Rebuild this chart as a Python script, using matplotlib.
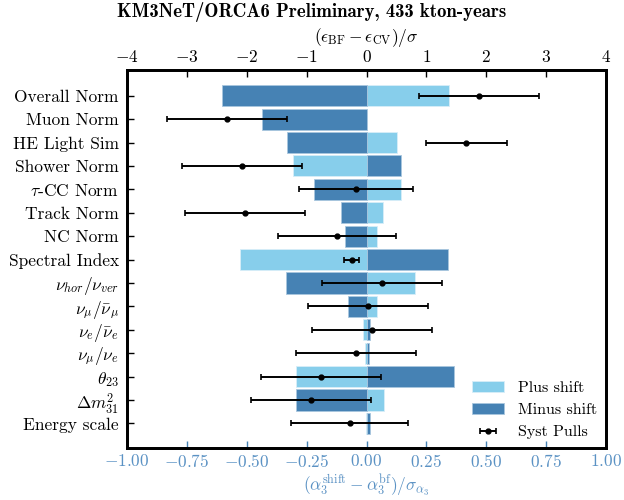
import matplotlib
matplotlib.use("Agg")
import matplotlib.pyplot as plt
import numpy as np

plt.rcParams['font.family'] = ['cmr10', 'DejaVu Serif']
plt.rcParams['mathtext.fontset'] = 'cm'
plt.rcParams['axes.formatter.use_mathtext'] = True

labels = ["Overall Norm", "Muon Norm", "HE Light Sim", "Shower Norm",
          r"$\tau$-CC Norm", "Track Norm", "NC Norm", "Spectral Index",
          r"$\nu_{hor}/\nu_{ver}$", r"$\nu_\mu/\bar{\nu}_\mu$",
          r"$\nu_e/\bar{\nu}_e$", r"$\nu_\mu/\nu_e$", r"$\theta_{23}$",
          r"$\Delta m^2_{31}$", "Energy scale"]
plus_shift = [0.344, 0.0, 0.127, -0.306, 0.144, 0.069, 0.044, -0.529,
              0.203, 0.044, -0.015, -0.005, -0.293, 0.073, -0.004]
minus_shift = [-0.603, -0.436, -0.332, 0.144, -0.219, -0.106, -0.090, 0.340,
               -0.336, -0.077, 0.015, 0.012, 0.365, -0.293, 0.015]
pulls = [1.88, -2.33, 1.67, -2.08, -0.18, -2.03, -0.49, -0.25,
         0.26, 0.03, 0.09, -0.18, -0.76, -0.93, -0.28]
pull_err = [1.0, 1.0, 0.67, 1.0, 0.95, 1.0, 0.98, 0.13,
            1.0, 1.0, 1.0, 1.0, 1.0, 1.0, 0.98]

n = len(labels)
y = np.arange(n)[::-1]

fig = plt.figure(figsize=(6.24, 5.0), dpi=100)
ax = fig.add_axes([127/624, 1-448/500, (606-127)/624, (448-70)/500])

ax.barh(y, plus_shift, height=0.9, color='skyblue', edgecolor='#d8eef8',
        linewidth=0.6, label='Plus shift')
ax.barh(y, minus_shift, height=0.9, color='steelblue', edgecolor='#a9c6de',
        linewidth=0.6, label='Minus shift')
ax.set_xlim(-1, 1)
ax.set_ylim(-1.05, 15.1)
ax.set_yticks(y)
ax.set_yticklabels(labels, fontsize=12.5)
ax.set_xticks([-1, -0.75, -0.5, -0.25, 0, 0.25, 0.5, 0.75, 1])
ax.set_xticklabels([r"$-1.00$", r"$-0.75$", r"$-0.50$", r"$-0.25$", r"$0.00$",
                    r"$0.25$", r"$0.50$", r"$0.75$", r"$1.00$"])
ax.tick_params(axis='x', direction='in', colors='steelblue', labelsize=12.5,
               length=5, width=1)
ax.tick_params(axis='y', direction='in', length=5, width=1, pad=6)
for t in ax.get_xticklabels():
    t.set_color('#5b92c4')
ax.set_xlabel(r"$(\alpha_3^{\rm shift} - \alpha_3^{\rm bf})/\sigma_{\alpha_3}$",
              color='#5b92c4', fontsize=12.5, labelpad=2)
for s in ax.spines.values():
    s.set_linewidth(2)

ax2 = ax.twiny()
eb = ax2.errorbar(pulls, y, xerr=pull_err, fmt='o', color='black', ms=3.5,
                  capsize=2, elinewidth=1.4, capthick=1.2, label='Syst Pulls')
ax2.set_xlim(-4, 4)
ax2.set_xticks(np.arange(-4, 5, 1))
ax2.set_xticklabels([r"$%d$" % v for v in range(-4, 5)])
ax2.tick_params(axis='x', direction='in', labelsize=12.5, length=5, width=1)
ax2.set_xlabel(r"$(\epsilon_{\rm BF} - \epsilon_{\rm CV})/\sigma$", fontsize=12.5,
               labelpad=5)
for s in ax2.spines.values():
    s.set_linewidth(2)

h1, l1 = ax.get_legend_handles_labels()
h2, l2 = ax2.get_legend_handles_labels()
ax2.legend(h1 + h2, l1 + l2, loc='lower right', frameon=False, fontsize=11.5,
           handlelength=2.0, handleheight=0.7, labelspacing=0.5,
           handletextpad=0.9, borderaxespad=0.15)

fig.text(0.5, 0.975, "KM3NeT/ORCA6 Preliminary, 433 kton-years",
         fontsize=13.5, family=['cmb10', 'DejaVu Serif'], ha='center',
         va='center')

fig.savefig("out.png", dpi=100)
